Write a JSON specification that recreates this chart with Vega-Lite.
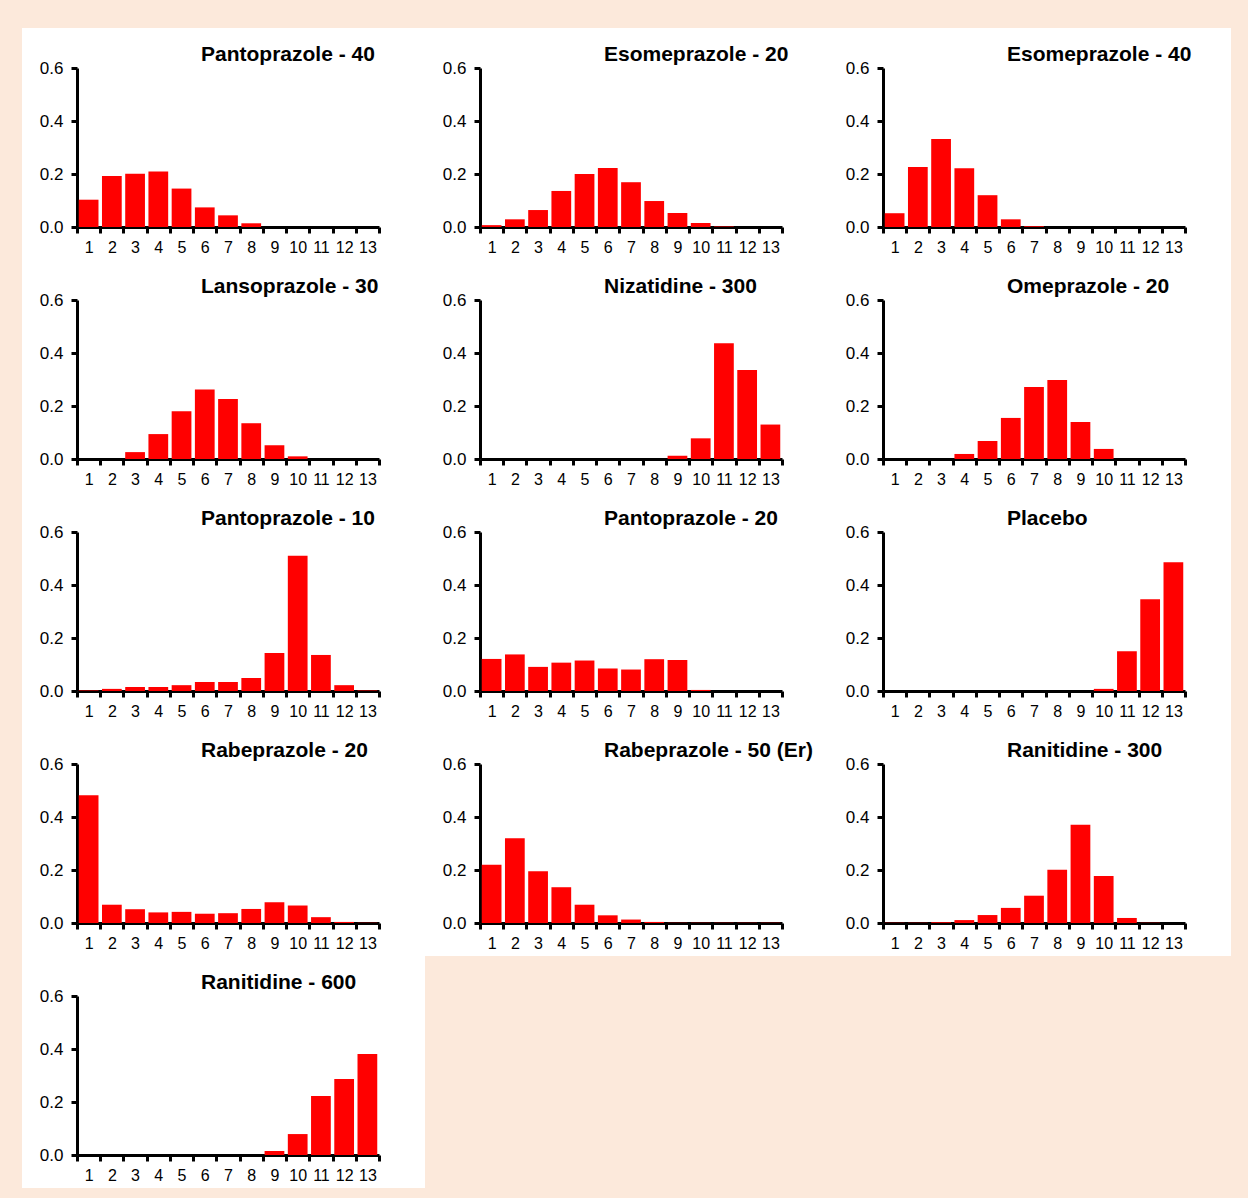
{
 "$schema": "https://vega.github.io/schema/vega-lite/v6.json",
 "background": "#FCE9DB",
 "padding": {"left": 22, "top": 28, "right": 17, "bottom": 10},
 "bounds": "flush",
 "columns": 3,
 "spacing": 0,
 "data": {"name": "bars"},
 "datasets": {
  "bars": [
   {"d":"Pantoprazole - 40","k":1,"v":0.103},{"d":"Pantoprazole - 40","k":2,"v":0.192},{"d":"Pantoprazole - 40","k":3,"v":0.201},{"d":"Pantoprazole - 40","k":4,"v":0.209},{"d":"Pantoprazole - 40","k":5,"v":0.145},{"d":"Pantoprazole - 40","k":6,"v":0.074},{"d":"Pantoprazole - 40","k":7,"v":0.044},{"d":"Pantoprazole - 40","k":8,"v":0.014},{"d":"Pantoprazole - 40","k":9,"v":0},{"d":"Pantoprazole - 40","k":10,"v":0},{"d":"Pantoprazole - 40","k":11,"v":0},{"d":"Pantoprazole - 40","k":12,"v":0},{"d":"Pantoprazole - 40","k":13,"v":0},
   {"d":"Esomeprazole - 20","k":1,"v":0.007},{"d":"Esomeprazole - 20","k":2,"v":0.029},{"d":"Esomeprazole - 20","k":3,"v":0.064},{"d":"Esomeprazole - 20","k":4,"v":0.136},{"d":"Esomeprazole - 20","k":5,"v":0.2},{"d":"Esomeprazole - 20","k":6,"v":0.223},{"d":"Esomeprazole - 20","k":7,"v":0.169},{"d":"Esomeprazole - 20","k":8,"v":0.098},{"d":"Esomeprazole - 20","k":9,"v":0.053},{"d":"Esomeprazole - 20","k":10,"v":0.015},{"d":"Esomeprazole - 20","k":11,"v":0.002},{"d":"Esomeprazole - 20","k":12,"v":0},{"d":"Esomeprazole - 20","k":13,"v":0},
   {"d":"Esomeprazole - 40","k":1,"v":0.052},{"d":"Esomeprazole - 40","k":2,"v":0.226},{"d":"Esomeprazole - 40","k":3,"v":0.332},{"d":"Esomeprazole - 40","k":4,"v":0.222},{"d":"Esomeprazole - 40","k":5,"v":0.12},{"d":"Esomeprazole - 40","k":6,"v":0.029},{"d":"Esomeprazole - 40","k":7,"v":0.003},{"d":"Esomeprazole - 40","k":8,"v":0},{"d":"Esomeprazole - 40","k":9,"v":0},{"d":"Esomeprazole - 40","k":10,"v":0},{"d":"Esomeprazole - 40","k":11,"v":0},{"d":"Esomeprazole - 40","k":12,"v":0},{"d":"Esomeprazole - 40","k":13,"v":0},
   {"d":"Lansoprazole - 30","k":1,"v":0},{"d":"Lansoprazole - 30","k":2,"v":0},{"d":"Lansoprazole - 30","k":3,"v":0.026},{"d":"Lansoprazole - 30","k":4,"v":0.094},{"d":"Lansoprazole - 30","k":5,"v":0.18},{"d":"Lansoprazole - 30","k":6,"v":0.262},{"d":"Lansoprazole - 30","k":7,"v":0.226},{"d":"Lansoprazole - 30","k":8,"v":0.135},{"d":"Lansoprazole - 30","k":9,"v":0.052},{"d":"Lansoprazole - 30","k":10,"v":0.01},{"d":"Lansoprazole - 30","k":11,"v":0},{"d":"Lansoprazole - 30","k":12,"v":0},{"d":"Lansoprazole - 30","k":13,"v":0},
   {"d":"Nizatidine - 300","k":1,"v":0},{"d":"Nizatidine - 300","k":2,"v":0},{"d":"Nizatidine - 300","k":3,"v":0},{"d":"Nizatidine - 300","k":4,"v":0},{"d":"Nizatidine - 300","k":5,"v":0},{"d":"Nizatidine - 300","k":6,"v":0},{"d":"Nizatidine - 300","k":7,"v":0},{"d":"Nizatidine - 300","k":8,"v":0},{"d":"Nizatidine - 300","k":9,"v":0.012},{"d":"Nizatidine - 300","k":10,"v":0.078},{"d":"Nizatidine - 300","k":11,"v":0.437},{"d":"Nizatidine - 300","k":12,"v":0.336},{"d":"Nizatidine - 300","k":13,"v":0.13},
   {"d":"Omeprazole - 20","k":1,"v":0},{"d":"Omeprazole - 20","k":2,"v":0},{"d":"Omeprazole - 20","k":3,"v":0},{"d":"Omeprazole - 20","k":4,"v":0.019},{"d":"Omeprazole - 20","k":5,"v":0.068},{"d":"Omeprazole - 20","k":6,"v":0.155},{"d":"Omeprazole - 20","k":7,"v":0.272},{"d":"Omeprazole - 20","k":8,"v":0.298},{"d":"Omeprazole - 20","k":9,"v":0.14},{"d":"Omeprazole - 20","k":10,"v":0.038},{"d":"Omeprazole - 20","k":11,"v":0},{"d":"Omeprazole - 20","k":12,"v":0},{"d":"Omeprazole - 20","k":13,"v":0},
   {"d":"Pantoprazole - 10","k":1,"v":0.002},{"d":"Pantoprazole - 10","k":2,"v":0.008},{"d":"Pantoprazole - 10","k":3,"v":0.015},{"d":"Pantoprazole - 10","k":4,"v":0.015},{"d":"Pantoprazole - 10","k":5,"v":0.022},{"d":"Pantoprazole - 10","k":6,"v":0.034},{"d":"Pantoprazole - 10","k":7,"v":0.034},{"d":"Pantoprazole - 10","k":8,"v":0.049},{"d":"Pantoprazole - 10","k":9,"v":0.143},{"d":"Pantoprazole - 10","k":10,"v":0.51},{"d":"Pantoprazole - 10","k":11,"v":0.136},{"d":"Pantoprazole - 10","k":12,"v":0.022},{"d":"Pantoprazole - 10","k":13,"v":0.002},
   {"d":"Pantoprazole - 20","k":1,"v":0.121},{"d":"Pantoprazole - 20","k":2,"v":0.138},{"d":"Pantoprazole - 20","k":3,"v":0.091},{"d":"Pantoprazole - 20","k":4,"v":0.107},{"d":"Pantoprazole - 20","k":5,"v":0.115},{"d":"Pantoprazole - 20","k":6,"v":0.085},{"d":"Pantoprazole - 20","k":7,"v":0.081},{"d":"Pantoprazole - 20","k":8,"v":0.12},{"d":"Pantoprazole - 20","k":9,"v":0.117},{"d":"Pantoprazole - 20","k":10,"v":0.004},{"d":"Pantoprazole - 20","k":11,"v":0},{"d":"Pantoprazole - 20","k":12,"v":0},{"d":"Pantoprazole - 20","k":13,"v":0},
   {"d":"Placebo","k":1,"v":0},{"d":"Placebo","k":2,"v":0},{"d":"Placebo","k":3,"v":0},{"d":"Placebo","k":4,"v":0},{"d":"Placebo","k":5,"v":0},{"d":"Placebo","k":6,"v":0},{"d":"Placebo","k":7,"v":0},{"d":"Placebo","k":8,"v":0},{"d":"Placebo","k":9,"v":0},{"d":"Placebo","k":10,"v":0.008},{"d":"Placebo","k":11,"v":0.15},{"d":"Placebo","k":12,"v":0.346},{"d":"Placebo","k":13,"v":0.486},
   {"d":"Rabeprazole - 20","k":1,"v":0.482},{"d":"Rabeprazole - 20","k":2,"v":0.069},{"d":"Rabeprazole - 20","k":3,"v":0.052},{"d":"Rabeprazole - 20","k":4,"v":0.04},{"d":"Rabeprazole - 20","k":5,"v":0.042},{"d":"Rabeprazole - 20","k":6,"v":0.035},{"d":"Rabeprazole - 20","k":7,"v":0.037},{"d":"Rabeprazole - 20","k":8,"v":0.053},{"d":"Rabeprazole - 20","k":9,"v":0.078},{"d":"Rabeprazole - 20","k":10,"v":0.066},{"d":"Rabeprazole - 20","k":11,"v":0.022},{"d":"Rabeprazole - 20","k":12,"v":0.004},{"d":"Rabeprazole - 20","k":13,"v":0.001},
   {"d":"Rabeprazole - 50 (Er)","k":1,"v":0.22},{"d":"Rabeprazole - 50 (Er)","k":2,"v":0.32},{"d":"Rabeprazole - 50 (Er)","k":3,"v":0.195},{"d":"Rabeprazole - 50 (Er)","k":4,"v":0.135},{"d":"Rabeprazole - 50 (Er)","k":5,"v":0.069},{"d":"Rabeprazole - 50 (Er)","k":6,"v":0.029},{"d":"Rabeprazole - 50 (Er)","k":7,"v":0.013},{"d":"Rabeprazole - 50 (Er)","k":8,"v":0.004},{"d":"Rabeprazole - 50 (Er)","k":9,"v":0.001},{"d":"Rabeprazole - 50 (Er)","k":10,"v":0.001},{"d":"Rabeprazole - 50 (Er)","k":11,"v":0.001},{"d":"Rabeprazole - 50 (Er)","k":12,"v":0.001},{"d":"Rabeprazole - 50 (Er)","k":13,"v":0.001},
   {"d":"Ranitidine - 300","k":1,"v":0.001},{"d":"Ranitidine - 300","k":2,"v":0.001},{"d":"Ranitidine - 300","k":3,"v":0.003},{"d":"Ranitidine - 300","k":4,"v":0.011},{"d":"Ranitidine - 300","k":5,"v":0.03},{"d":"Ranitidine - 300","k":6,"v":0.057},{"d":"Ranitidine - 300","k":7,"v":0.103},{"d":"Ranitidine - 300","k":8,"v":0.201},{"d":"Ranitidine - 300","k":9,"v":0.371},{"d":"Ranitidine - 300","k":10,"v":0.177},{"d":"Ranitidine - 300","k":11,"v":0.019},{"d":"Ranitidine - 300","k":12,"v":0.001},{"d":"Ranitidine - 300","k":13,"v":0},
   {"d":"Ranitidine - 600","k":1,"v":0},{"d":"Ranitidine - 600","k":2,"v":0},{"d":"Ranitidine - 600","k":3,"v":0},{"d":"Ranitidine - 600","k":4,"v":0},{"d":"Ranitidine - 600","k":5,"v":0},{"d":"Ranitidine - 600","k":6,"v":0},{"d":"Ranitidine - 600","k":7,"v":0},{"d":"Ranitidine - 600","k":8,"v":0},{"d":"Ranitidine - 600","k":9,"v":0.015},{"d":"Ranitidine - 600","k":10,"v":0.079},{"d":"Ranitidine - 600","k":11,"v":0.223},{"d":"Ranitidine - 600","k":12,"v":0.287},{"d":"Ranitidine - 600","k":13,"v":0.381}
  ]
 },
 "concat": [
  {"title": "Pantoprazole - 40", "width": 403, "height": 232, "transform": [{"filter": "datum.d === 'Pantoprazole - 40'"}], "mark": {"type": "bar", "color": "#FF0000", "width": {"band": 0.85}}, "encoding": {"x": {"field": "k", "type": "ordinal", "title": null, "scale": {"range": [55, 357], "paddingInner": 0, "paddingOuter": 0}}, "y": {"field": "v", "type": "quantitative", "title": null, "scale": {"domain": [0, 0.6], "range": [199, 40], "nice": false}, "axis": {"values": [0, 0.2, 0.4, 0.6], "format": ".1f"}}}},
  {"title": "Esomeprazole - 20", "width": 403, "height": 232, "transform": [{"filter": "datum.d === 'Esomeprazole - 20'"}], "mark": {"type": "bar", "color": "#FF0000", "width": {"band": 0.85}}, "encoding": {"x": {"field": "k", "type": "ordinal", "title": null, "scale": {"range": [55, 357], "paddingInner": 0, "paddingOuter": 0}}, "y": {"field": "v", "type": "quantitative", "title": null, "scale": {"domain": [0, 0.6], "range": [199, 40], "nice": false}, "axis": {"values": [0, 0.2, 0.4, 0.6], "format": ".1f"}}}},
  {"title": "Esomeprazole - 40", "width": 403, "height": 232, "transform": [{"filter": "datum.d === 'Esomeprazole - 40'"}], "mark": {"type": "bar", "color": "#FF0000", "width": {"band": 0.85}}, "encoding": {"x": {"field": "k", "type": "ordinal", "title": null, "scale": {"range": [55, 357], "paddingInner": 0, "paddingOuter": 0}}, "y": {"field": "v", "type": "quantitative", "title": null, "scale": {"domain": [0, 0.6], "range": [199, 40], "nice": false}, "axis": {"values": [0, 0.2, 0.4, 0.6], "format": ".1f"}}}},
  {"title": "Lansoprazole - 30", "width": 403, "height": 232, "transform": [{"filter": "datum.d === 'Lansoprazole - 30'"}], "mark": {"type": "bar", "color": "#FF0000", "width": {"band": 0.85}}, "encoding": {"x": {"field": "k", "type": "ordinal", "title": null, "scale": {"range": [55, 357], "paddingInner": 0, "paddingOuter": 0}}, "y": {"field": "v", "type": "quantitative", "title": null, "scale": {"domain": [0, 0.6], "range": [199, 40], "nice": false}, "axis": {"values": [0, 0.2, 0.4, 0.6], "format": ".1f"}}}},
  {"title": "Nizatidine - 300", "width": 403, "height": 232, "transform": [{"filter": "datum.d === 'Nizatidine - 300'"}], "mark": {"type": "bar", "color": "#FF0000", "width": {"band": 0.85}}, "encoding": {"x": {"field": "k", "type": "ordinal", "title": null, "scale": {"range": [55, 357], "paddingInner": 0, "paddingOuter": 0}}, "y": {"field": "v", "type": "quantitative", "title": null, "scale": {"domain": [0, 0.6], "range": [199, 40], "nice": false}, "axis": {"values": [0, 0.2, 0.4, 0.6], "format": ".1f"}}}},
  {"title": "Omeprazole - 20", "width": 403, "height": 232, "transform": [{"filter": "datum.d === 'Omeprazole - 20'"}], "mark": {"type": "bar", "color": "#FF0000", "width": {"band": 0.85}}, "encoding": {"x": {"field": "k", "type": "ordinal", "title": null, "scale": {"range": [55, 357], "paddingInner": 0, "paddingOuter": 0}}, "y": {"field": "v", "type": "quantitative", "title": null, "scale": {"domain": [0, 0.6], "range": [199, 40], "nice": false}, "axis": {"values": [0, 0.2, 0.4, 0.6], "format": ".1f"}}}},
  {"title": "Pantoprazole - 10", "width": 403, "height": 232, "transform": [{"filter": "datum.d === 'Pantoprazole - 10'"}], "mark": {"type": "bar", "color": "#FF0000", "width": {"band": 0.85}}, "encoding": {"x": {"field": "k", "type": "ordinal", "title": null, "scale": {"range": [55, 357], "paddingInner": 0, "paddingOuter": 0}}, "y": {"field": "v", "type": "quantitative", "title": null, "scale": {"domain": [0, 0.6], "range": [199, 40], "nice": false}, "axis": {"values": [0, 0.2, 0.4, 0.6], "format": ".1f"}}}},
  {"title": "Pantoprazole - 20", "width": 403, "height": 232, "transform": [{"filter": "datum.d === 'Pantoprazole - 20'"}], "mark": {"type": "bar", "color": "#FF0000", "width": {"band": 0.85}}, "encoding": {"x": {"field": "k", "type": "ordinal", "title": null, "scale": {"range": [55, 357], "paddingInner": 0, "paddingOuter": 0}}, "y": {"field": "v", "type": "quantitative", "title": null, "scale": {"domain": [0, 0.6], "range": [199, 40], "nice": false}, "axis": {"values": [0, 0.2, 0.4, 0.6], "format": ".1f"}}}},
  {"title": "Placebo", "width": 403, "height": 232, "transform": [{"filter": "datum.d === 'Placebo'"}], "mark": {"type": "bar", "color": "#FF0000", "width": {"band": 0.85}}, "encoding": {"x": {"field": "k", "type": "ordinal", "title": null, "scale": {"range": [55, 357], "paddingInner": 0, "paddingOuter": 0}}, "y": {"field": "v", "type": "quantitative", "title": null, "scale": {"domain": [0, 0.6], "range": [199, 40], "nice": false}, "axis": {"values": [0, 0.2, 0.4, 0.6], "format": ".1f"}}}},
  {"title": "Rabeprazole - 20", "width": 403, "height": 232, "transform": [{"filter": "datum.d === 'Rabeprazole - 20'"}], "mark": {"type": "bar", "color": "#FF0000", "width": {"band": 0.85}}, "encoding": {"x": {"field": "k", "type": "ordinal", "title": null, "scale": {"range": [55, 357], "paddingInner": 0, "paddingOuter": 0}}, "y": {"field": "v", "type": "quantitative", "title": null, "scale": {"domain": [0, 0.6], "range": [199, 40], "nice": false}, "axis": {"values": [0, 0.2, 0.4, 0.6], "format": ".1f"}}}},
  {"title": "Rabeprazole - 50 (Er)", "width": 403, "height": 232, "transform": [{"filter": "datum.d === 'Rabeprazole - 50 (Er)'"}], "mark": {"type": "bar", "color": "#FF0000", "width": {"band": 0.85}}, "encoding": {"x": {"field": "k", "type": "ordinal", "title": null, "scale": {"range": [55, 357], "paddingInner": 0, "paddingOuter": 0}}, "y": {"field": "v", "type": "quantitative", "title": null, "scale": {"domain": [0, 0.6], "range": [199, 40], "nice": false}, "axis": {"values": [0, 0.2, 0.4, 0.6], "format": ".1f"}}}},
  {"title": "Ranitidine - 300", "width": 403, "height": 232, "transform": [{"filter": "datum.d === 'Ranitidine - 300'"}], "mark": {"type": "bar", "color": "#FF0000", "width": {"band": 0.85}}, "encoding": {"x": {"field": "k", "type": "ordinal", "title": null, "scale": {"range": [55, 357], "paddingInner": 0, "paddingOuter": 0}}, "y": {"field": "v", "type": "quantitative", "title": null, "scale": {"domain": [0, 0.6], "range": [199, 40], "nice": false}, "axis": {"values": [0, 0.2, 0.4, 0.6], "format": ".1f"}}}},
  {"title": "Ranitidine - 600", "width": 403, "height": 232, "transform": [{"filter": "datum.d === 'Ranitidine - 600'"}], "mark": {"type": "bar", "color": "#FF0000", "width": {"band": 0.85}}, "encoding": {"x": {"field": "k", "type": "ordinal", "title": null, "scale": {"range": [55, 357], "paddingInner": 0, "paddingOuter": 0}}, "y": {"field": "v", "type": "quantitative", "title": null, "scale": {"domain": [0, 0.6], "range": [199, 40], "nice": false}, "axis": {"values": [0, 0.2, 0.4, 0.6], "format": ".1f"}}}}
 ],
 "config": {
  "view": {"fill": "white", "stroke": null},
  "font": "Liberation Sans",
  "axis": {"domainColor": "black", "domainWidth": 3, "tickColor": "black", "tickWidth": 3, "tickSize": 6, "labelFont": "Liberation Sans", "labelColor": "black", "grid": false, "zindex": 1, "labelOverlap": false},
  "axisX": {"offset": -33, "tickBand": "extent", "labelAngle": 0, "labelPadding": 6, "labelFontSize": 16},
  "axisY": {"offset": -55, "labelPadding": 8, "labelFontSize": 17},
  "title": {"font": "Liberation Sans", "fontSize": 21, "fontWeight": "bold", "color": "black", "anchor": "start", "frame": "group", "dx": 179, "offset": -37, "baseline": "alphabetic"}
 }
}
